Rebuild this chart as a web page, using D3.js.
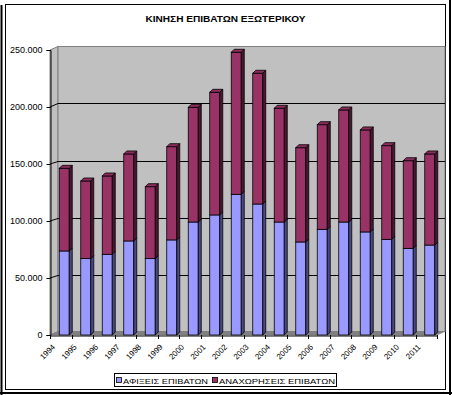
<!DOCTYPE html>
<html>
<head>
<meta charset="utf-8">
<script src="https://cdn.jsdelivr.net/npm/d3@7"></script>
<style>
  html, body { margin: 0; padding: 0; background: #fff; }
  svg { display: block; font-family: "Liberation Sans", Arial, sans-serif; }
</style>
</head>
<body>
<svg id="chart" width="452" height="395"></svg>
<script>
const title = "ΚΙΝΗΣΗ ΕΠΙΒΑΤΩΝ ΕΞΩΤΕΡΙΚΟΥ";
const years = ["1994","1995","1996","1997","1998","1999","2000","2001","2002","2003","2004","2005","2006","2007","2008","2009","2010","2011"];
const arrivals   = [73700, 67000, 70800, 82500, 67000, 83400, 99100, 105300, 123400, 114900, 99100, 81600, 92700, 99100, 90400, 83900, 76000, 78900];
const departures = [72500, 68100, 68700, 76300, 63100, 81800, 100600, 107600, 124600, 114700, 99800, 82700, 91800, 98300, 89500, 82200, 76900, 79900];
const seriesNames = ["ΑΦΙΞΕΙΣ ΕΠΙΒΑΤΩΝ", "ΑΝΑΧΩΡΗΣΕΙΣ ΕΠΙΒΑΤΩΝ"];
const yTicks = [0, 50000, 100000, 150000, 200000, 250000];

const colors = {
  front: ["#9999ff", "#993366"],
  side:  ["#4a4a85", "#4d1733"],
  top:   ["#8080e0", "#8a2d5c"]
};

const svg = d3.select("#chart");
const locale = d3.formatLocale({decimal: ",", thousands: ".", grouping: [3], currency: ["", ""]});
const fmt = locale.format(",.0f");

// frame
svg.append("rect").attr("x", 5.5).attr("y", 4.5).attr("width", 440).attr("height", 385)
  .attr("fill", "#fff").attr("stroke", "#000").attr("stroke-width", 1);
svg.append("line").attr("x1", 1.5).attr("y1", 5).attr("x2", 1.5).attr("y2", 395).attr("stroke", "#000").attr("stroke-width", 2);
svg.append("line").attr("x1", 0).attr("y1", 393).attr("x2", 452).attr("y2", 393).attr("stroke", "#000").attr("stroke-width", 2);
svg.append("line").attr("x1", 450).attr("y1", 0).attr("x2", 450).attr("y2", 395).attr("stroke", "#000").attr("stroke-width", 2);

// title
svg.append("text").attr("x", 225.5).attr("y", 22).attr("text-anchor", "middle")
  .attr("font-size", 9).attr("font-weight", "bold").attr("textLength", 160)
  .attr("lengthAdjust", "spacingAndGlyphs").text(title);

const x = d3.scaleBand().domain(years).range([50, 437]).paddingInner(0).paddingOuter(0);
const y = d3.scaleLinear().domain([0, 250000]).range([335, 50]);
const DX = 8, DY = -3.5;
const xL = 50, xR = 437;

// side wall
svg.append("polygon")
  .attr("points", [[xL, y(0)], [xL, y(250000)], [xL + DX, y(250000) + DY], [xL + DX, y(0) + DY]].map(p => p.join(",")).join(" "))
  .attr("fill", "#c0c0c0").attr("stroke", "#808080").attr("stroke-width", 1);
// back wall
svg.append("rect").attr("x", xL + DX).attr("y", y(250000) + DY)
  .attr("width", xR - xL).attr("height", y(0) - y(250000))
  .attr("fill", "#c0c0c0").attr("stroke", "#808080").attr("stroke-width", 1);
// floor
svg.append("polygon")
  .attr("points", [[xL, y(0)], [xL + DX, y(0) + DY], [xR + DX, y(0) + DY], [xR, y(0)]].map(p => p.join(",")).join(" "))
  .attr("fill", "#808080").attr("stroke", "#808080").attr("stroke-width", 0.5);

// gridlines
const grid = svg.append("g");
yTicks.filter(t => t > 0 && t < 250000).forEach(t => {
  const yy = Math.round(y(t) + DY) + 0.5;
  grid.append("line").attr("x1", xL + DX).attr("x2", xR + DX).attr("y1", yy).attr("y2", yy)
    .attr("stroke", "#000").attr("stroke-width", 1);
  grid.append("line").attr("x1", xL).attr("y1", y(t)).attr("x2", xL + DX).attr("y2", yy)
    .attr("stroke", "#000").attr("stroke-width", 1);
});

// y axis
const yAxis = d3.axisLeft(y).tickValues(yTicks).tickSize(4).tickPadding(4)
  .tickFormat(d => d === 0 ? "0" : fmt(d));
const gy = svg.append("g").attr("transform", `translate(${xL + 0.5},0)`).call(yAxis);
gy.select(".domain").attr("stroke", "#000");
gy.selectAll("text").attr("font-size", 9).attr("font-family", "Liberation Sans, Arial, sans-serif").attr("fill", "#000");

// bars
const bw = 10, bd = 3, shift = 3.5;
const barsG = svg.append("g");
years.forEach((yr, i) => {
  const x0 = x(yr) + x.bandwidth() / 2 - bw / 2 + shift;
  const segs = [[0, arrivals[i]], [arrivals[i], arrivals[i] + departures[i]]];
  segs.forEach((s, k) => {
    const yTop = y(s[1]), yBot = y(s[0]);
    barsG.append("rect").attr("x", x0).attr("y", yTop).attr("width", bw).attr("height", yBot - yTop)
      .attr("fill", colors.front[k]).attr("stroke", "#000").attr("stroke-width", 0.8);
    barsG.append("polygon")
      .attr("points", [[x0 + bw, yBot], [x0 + bw, yTop], [x0 + bw + bd, yTop - bd], [x0 + bw + bd, yBot - bd]].map(p => p.join(",")).join(" "))
      .attr("fill", colors.side[k]).attr("stroke", "#000").attr("stroke-width", 0.8);
    if (k === 1) {
      barsG.append("polygon")
        .attr("points", [[x0, yTop], [x0 + bd, yTop - bd], [x0 + bw + bd, yTop - bd], [x0 + bw, yTop]].map(p => p.join(",")).join(" "))
        .attr("fill", colors.top[k]).attr("stroke", "#000").attr("stroke-width", 0.8);
    }
  });
});

// x axis
const xAxis = d3.axisBottom(x).tickSize(0).tickFormat(d => d);
const gx = svg.append("g").attr("transform", `translate(0,${y(0) + 0.5})`).call(xAxis);
gx.select(".domain").attr("stroke", "#000");
gx.selectAll(".tick text")
  .attr("font-size", 8).attr("fill", "#000").attr("font-family", "Liberation Sans, Arial, sans-serif")
  .attr("text-anchor", "end")
  .attr("transform", "translate(-5,12) rotate(-45)")
  .attr("dy", 0).attr("y", 0).attr("x", 0);
// boundary ticks
const bounds = years.map(d => x(d)).concat([xR]);
svg.append("g").selectAll("line").data(bounds).join("line")
  .attr("x1", d => Math.round(d) + 0.5).attr("x2", d => Math.round(d) + 0.5)
  .attr("y1", y(0)).attr("y2", y(0) + 4).attr("stroke", "#000");

// legend
const lg = svg.append("g");
lg.append("rect").attr("x", 114.5).attr("y", 373.5).attr("width", 222).attr("height", 13)
  .attr("fill", "#fff").attr("stroke", "#000").attr("stroke-width", 1);
const legendItems = [
  {sq: 116, tx: 123, len: 85},
  {sq: 212, tx: 219, len: 116}
];
legendItems.forEach((it, k) => {
  lg.append("rect").attr("x", it.sq + 0.5).attr("y", 377.5).attr("width", 5).attr("height", 5)
    .attr("fill", colors.front[k]).attr("stroke", "#000").attr("stroke-width", 0.8);
  lg.append("text").attr("x", it.tx).attr("y", 383.5).attr("font-size", 8)
    .attr("textLength", it.len).attr("lengthAdjust", "spacingAndGlyphs").text(seriesNames[k]);
});
</script>
</body>
</html>
